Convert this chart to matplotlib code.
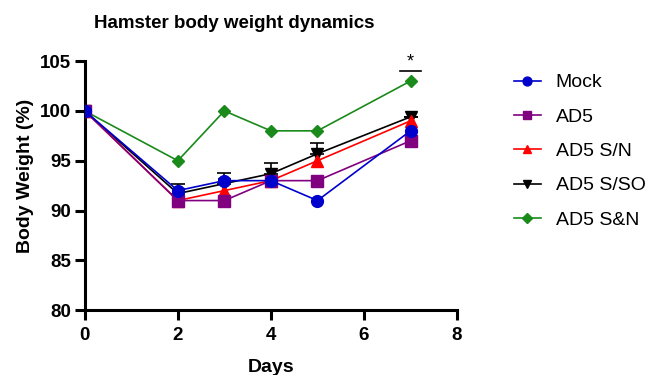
import matplotlib.pyplot as plt

plt.rcParams['font.family'] = ['Liberation Sans', 'DejaVu Sans']

days = [0, 2, 3, 4, 5, 7]

mock = [100, 92, 93, 93, 91, 98]
ad5 = [100, 91, 91, 93, 93, 97]
ad5_sn = [100, 91, 92, 93, 95, 99]
ad5_sso = [100, 91.7, 92.7, 93.7, 95.7, 99.4]
ad5_sso_err = [0, 1.0, 1.1, 1.1, 1.1, 0]
ad5_s_n = [100, 95, 100, 98, 98, 103]

fig = plt.figure(figsize=(6.52, 3.75), dpi=100)
ax = fig.add_axes([0.130, 0.173, 0.571, 0.664])

# error bars (upper only) for S/SO
ax.errorbar(days, ad5_sso, yerr=[[0] * len(days), ad5_sso_err], fmt='none',
            ecolor='black', elinewidth=1.2, capsize=5, capthick=1.2, zorder=2)

ax.plot(days, ad5_s_n, color='#1a8a1a', marker='D', markersize=6.5, lw=1.2,
        label='AD5 S&N', zorder=3)
ax.plot(days, ad5_sso, color='black', marker='v', markersize=8.5, lw=1.2,
        label='AD5 S/SO', zorder=4)
ax.plot(days, ad5_sn, color='#ff0000', marker='^', markersize=8.5, lw=1.2,
        label='AD5 S/N', zorder=5)
ax.plot(days, ad5, color='#800080', marker='s', markersize=8, lw=1.2,
        label='AD5', zorder=6)
ax.plot(days, mock, color='#0000cc', marker='o', markersize=8.5, lw=1.2,
        label='Mock', zorder=7)

# significance mark
ax.plot([6.77, 7.22], [104, 104], color='black', lw=1.2, clip_on=False)
ax.text(7.0, 104.1, '*', ha='center', va='bottom', fontsize=13)

ax.set_xlim(0, 8)
ax.set_ylim(80, 105)
ax.set_xticks([0, 2, 4, 6, 8])
ax.set_yticks([80, 85, 90, 95, 100, 105])
for s in ['top', 'right']:
    ax.spines[s].set_visible(False)
for s in ['left', 'bottom']:
    ax.spines[s].set_linewidth(2.2)
ax.tick_params(width=2.2, length=7, labelsize=13.5, pad=3)
ax.tick_params(axis='x', pad=5)
for lab in ax.get_xticklabels() + ax.get_yticklabels():
    lab.set_fontweight('bold')

ax.set_xlabel('Days', fontsize=14, fontweight='bold')
ax.xaxis.set_label_coords(0.5, -0.195)
ax.set_ylabel('Body Weight (%)', fontsize=14, fontweight='bold')
ax.yaxis.label.set_va('center')
ax.yaxis.set_label_coords(-0.16, 0.54)
fig.text(0.36, 0.938, 'Hamster body weight dynamics', ha='center', va='center',
         fontsize=13.5, fontweight='bold')

handles, labels = ax.get_legend_handles_labels()
order = [4, 3, 2, 1, 0]
fig.legend([handles[i] for i in order], [labels[i] for i in order],
           loc='upper left', bbox_to_anchor=(0.788, 0.803), frameon=False,
           fontsize=14, labelspacing=0.86, handlelength=1.4, handletextpad=0.75,
           borderpad=0, borderaxespad=0, markerscale=0.75)

fig.savefig('out.png', dpi=100)
